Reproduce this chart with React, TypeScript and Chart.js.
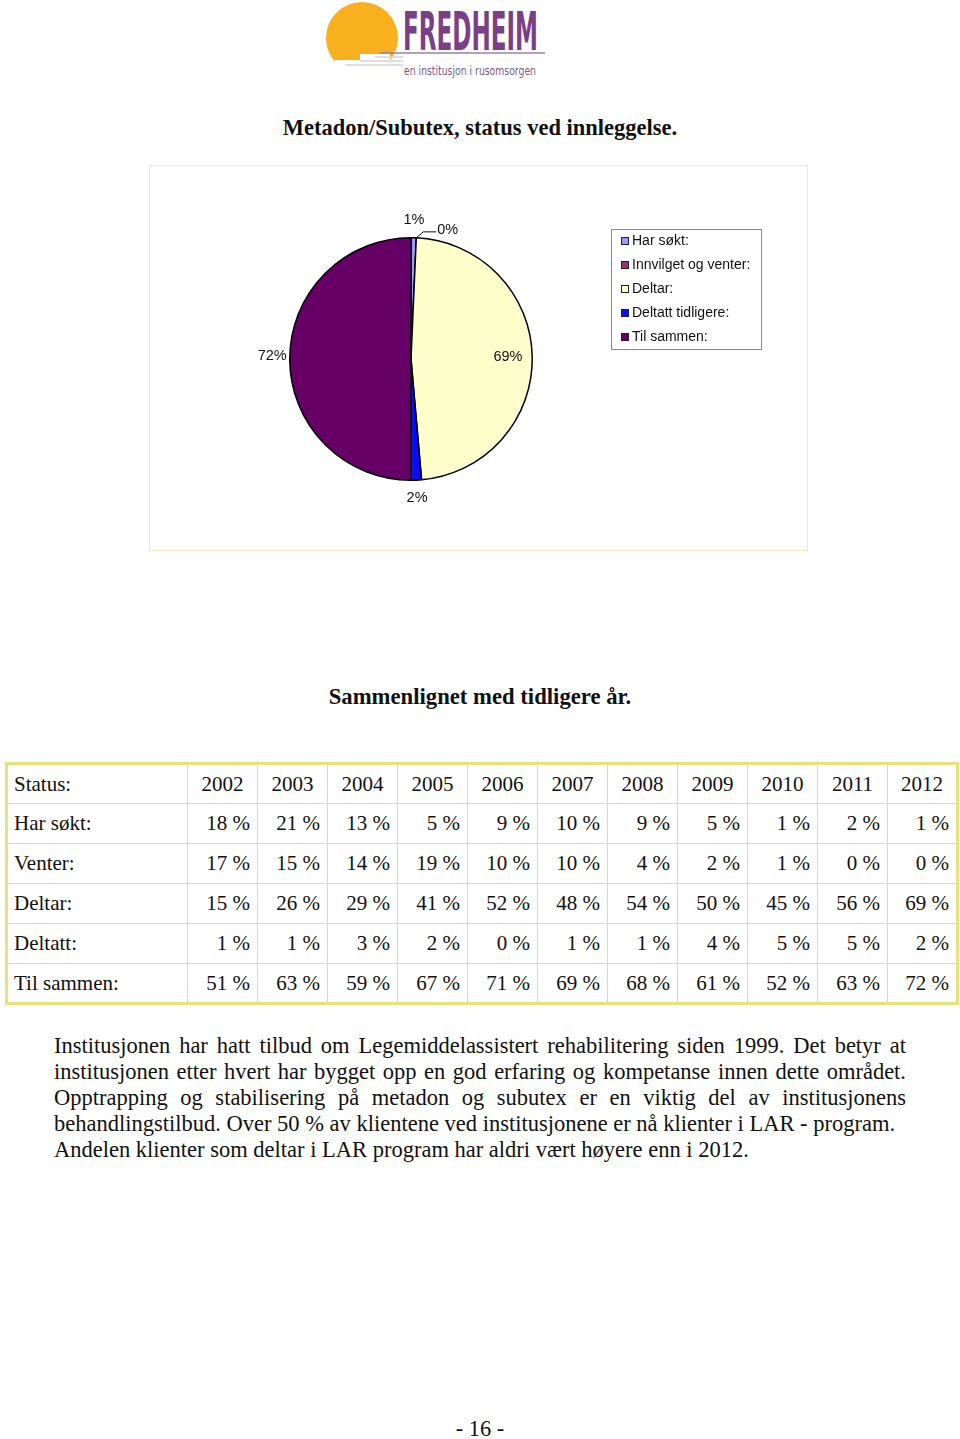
import React, { useEffect, useRef } from "react";
import { Chart, registerables } from "chart.js";

Chart.register(...registerables);

// ---- Pie data (2012) ----
const pieLabels = ["Har søkt:", "Innvilget og venter:", "Deltar:", "Deltatt tidligere:", "Til sammen:"];
const pieValues = [1, 0, 69, 2, 72];
const pieColors = ["#9999ff", "#993366", "#ffffcc", "#0c0cf5", "#660066"];

// ---- Table data ----
const years = ["2002", "2003", "2004", "2005", "2006", "2007", "2008", "2009", "2010", "2011", "2012"];
const harSokt = [18, 21, 13, 5, 9, 10, 9, 5, 1, 2, 1];
const venter = [17, 15, 14, 19, 10, 10, 4, 2, 1, 0, 0];
const deltar = [15, 26, 29, 41, 52, 48, 54, 50, 45, 56, 69];
const deltatt = [1, 1, 3, 2, 0, 1, 1, 4, 5, 5, 2];
const tilSammen = [51, 63, 59, 67, 71, 69, 68, 61, 52, 63, 72];

const tableRows: [string, number[]][] = [
  ["Har søkt:", harSokt],
  ["Venter:", venter],
  ["Deltar:", deltar],
  ["Deltatt:", deltatt],
  ["Til sammen:", tilSammen],
];

const paragraphLines = [
  "Institusjonen har hatt tilbud om Legemiddelassistert rehabilitering siden 1999. Det betyr at",
  "institusjonen etter hvert har bygget opp en god erfaring og kompetanse innen dette området.",
  "Opptrapping og stabilisering på metadon og subutex er en viktig del av institusjonens",
  "behandlingstilbud. Over 50 % av klientene ved institusjonene er nå klienter i LAR - program.",
  "Andelen klienter som deltar i LAR program har aldri vært høyere enn i 2012.",
];

const pieLabelPlugin = {
  id: "pieLabels",
  afterDatasetsDraw(chart: any, _args: any, opts: any) {
    const ctx = chart.ctx;
    const meta = chart.getDatasetMeta(0);
    const ds = chart.data.datasets[0];
    ctx.save();
    ctx.font = opts.font;
    ctx.fillStyle = "#111";
    ctx.strokeStyle = "#111";
    ctx.lineWidth = 1;
    ctx.textBaseline = "middle";
    meta.data.forEach((arc: any, i: number) => {
      const { x, y, startAngle, endAngle, outerRadius } = arc.getProps(
        ["x", "y", "startAngle", "endAngle", "outerRadius"],
        true
      );
      const mid = (startAngle + endAngle) / 2;
      const c = Math.cos(mid);
      const s = Math.sin(mid);
      const text = ds.data[i] + "%";
      const mode = opts.placement[i];
      if (mode === "inside") {
        const r = outerRadius * 0.8;
        ctx.textAlign = "center";
        ctx.fillText(text, x + c * r, y + s * r);
      } else if (mode === "leader") {
        const px = x + c * outerRadius;
        const py = y + s * outerRadius;
        const ex = px + 7;
        const ey = py - 6;
        ctx.beginPath();
        ctx.moveTo(px, py);
        ctx.lineTo(ex, ey);
        ctx.lineTo(ex + 13, ey);
        ctx.stroke();
        ctx.textAlign = "left";
        ctx.fillText(text, ex + 14, ey - 2);
      } else {
        if (c < -0.5) {
          ctx.textAlign = "right";
          ctx.fillText(text, x + c * (outerRadius + 3), y + s * (outerRadius + 3) - 3);
        } else if (c > 0.5) {
          ctx.textAlign = "left";
          ctx.fillText(text, x + c * (outerRadius + 3), y + s * (outerRadius + 3) - 3);
        } else {
          ctx.textAlign = "center";
          ctx.fillText(text, x + c * (outerRadius + 18), y + s * (outerRadius + 18));
        }
      }
    });
    ctx.restore();
  },
};

const boxLegendPlugin = {
  id: "boxLegend",
  afterDraw(chart: any, _args: any, opts: any) {
    const ctx = chart.ctx;
    const { x, y, w, h, rowH, firstY, markerX, textX, markerSize } = opts;
    const colors = chart.data.datasets[0].backgroundColor;
    ctx.save();
    ctx.strokeStyle = "#8a8a8a";
    ctx.lineWidth = 1;
    ctx.strokeRect(x + 0.5, y + 0.5, w, h);
    ctx.font = opts.font;
    ctx.textBaseline = "middle";
    ctx.textAlign = "left";
    chart.data.labels.forEach((lab: string, i: number) => {
      const cy = firstY + i * rowH;
      ctx.fillStyle = colors[i];
      ctx.fillRect(markerX, cy - markerSize / 2, markerSize, markerSize);
      ctx.strokeStyle = "#222";
      ctx.strokeRect(markerX + 0.5, cy - markerSize / 2 + 0.5, markerSize - 1, markerSize - 1);
      ctx.fillStyle = "#111";
      ctx.fillText(lab, textX, cy);
    });
    ctx.restore();
  },
};

function PieChart() {
  const ref = useRef<HTMLCanvasElement | null>(null);
  useEffect(() => {
    if (!ref.current) return;
    const chart = new Chart(ref.current, {
      type: "pie",
      data: {
        labels: pieLabels,
        datasets: [
          {
            data: pieValues,
            backgroundColor: pieColors,
            borderColor: "#000",
            borderWidth: 1.5,
            hoverOffset: 0,
          },
        ],
      },
      options: {
        responsive: false,
        animation: false,
        layout: { padding: { left: 139, right: 274, top: 71, bottom: 69 } },
        plugins: {
          legend: { display: false },
          tooltip: { enabled: false },
          pieLabels: {
            font: "14.5px 'Liberation Sans', Arial, sans-serif",
            placement: ["outside", "leader", "inside", "outside", "outside"],
          },
          boxLegend: {
            x: 461,
            y: 63,
            w: 150,
            h: 120,
            firstY: 75,
            rowH: 24,
            markerX: 471,
            textX: 482,
            markerSize: 8,
            font: "14px 'Liberation Sans', Arial, sans-serif",
          },
        } as any,
      },
      plugins: [pieLabelPlugin, boxLegendPlugin],
    });
    return () => chart.destroy();
  }, []);
  return <canvas ref={ref} width={657} height={384} style={{ display: "block" }} />;
}

function Logo() {
  const fam = "'DejaVu Sans Condensed', 'Liberation Sans Narrow', 'DejaVu Sans', sans-serif";
  return (
    <svg
      width={250}
      height={82}
      style={{ position: "absolute", left: 315, top: 0 }}
      viewBox="0 0 250 82"
    >
      <circle cx={47} cy={38} r={36} fill="#f8b01e" />
      <rect x={45} y={54} width={30} height={22} fill="#ffffff" />
      <rect x={20} y={60} width={30} height={16} fill="#ffffff" />
      <line x1={65} y1={53} x2={230} y2={53} stroke="#9b7fa6" strokeWidth={1.5} />
      <line x1={60} y1={57} x2={88} y2={57} stroke="#d8d0dc" strokeWidth={1.5} />
      <line x1={45} y1={61} x2={88} y2={61} stroke="#d8d0dc" strokeWidth={1.5} />
      <line x1={30} y1={65} x2={88} y2={65} stroke="#d8d0dc" strokeWidth={1.5} />
      <text
        transform="translate(88,50) scale(1,1.91)"
        x={0}
        y={0}
        fontFamily={fam}
        fontWeight="bold"
        fontSize={28}
        fill="#7b3f88"
        textLength={135}
        lengthAdjust="spacingAndGlyphs"
      >
        FREDHEIM
      </text>
      <text
        transform="translate(89,75) scale(1,1.25)"
        x={0}
        y={0}
        fontFamily={fam}
        fontSize={10}
        fill="#7a5a88"
        textLength={132}
        lengthAdjust="spacingAndGlyphs"
      >
        en institusjon i rusomsorgen
      </text>
    </svg>
  );
}

const serif = "'Liberation Serif', 'Times New Roman', Times, serif";
const tableBorder = "#e8e27a";

export default function App() {
  return (
    <div style={{ fontFamily: serif, color: "#111" }}>
      <Logo />
      <div
        style={{
          position: "absolute",
          left: 0,
          width: 960,
          top: 115,
          lineHeight: "26px",
          textAlign: "center",
          fontWeight: "bold",
          fontSize: 22.5,
        }}
      >
        Metadon/Subutex, status ved innleggelse.
      </div>
      <div
        style={{
          position: "absolute",
          left: 149,
          top: 165,
          width: 657,
          height: 384,
          border: "1px solid #eeecc2",
        }}
      >
        <PieChart />
      </div>
      <div
        style={{
          position: "absolute",
          left: 0,
          width: 960,
          top: 684,
          lineHeight: "26px",
          textAlign: "center",
          fontWeight: "bold",
          fontSize: 22.7,
        }}
      >
        Sammenlignet med tidligere år.
      </div>
      <table
        style={{
          position: "absolute",
          left: 5,
          top: 762,
          width: 949,
          borderCollapse: "collapse",
          border: `3px solid ${tableBorder}`,
          fontSize: 21,
          fontFamily: serif,
          tableLayout: "fixed",
        }}
      >
        <colgroup>
          <col style={{ width: 181 }} />
          {years.map((y) => (
            <col key={y} style={{ width: 70 }} />
          ))}
        </colgroup>
        <tbody>
          <tr style={{ height: 40 }}>
            <td style={{ border: `1.5px solid ${tableBorder}`, padding: "0 0 0 6px" }}>Status:</td>
            {years.map((y) => (
              <td key={y} style={{ border: `1.5px solid ${tableBorder}`, textAlign: "center", padding: 0 }}>
                {y}
              </td>
            ))}
          </tr>
          {tableRows.map(([name, vals]) => (
            <tr key={name} style={{ height: 40 }}>
              <td style={{ border: `1.5px solid ${tableBorder}`, padding: "0 0 0 6px" }}>{name}</td>
              {vals.map((v, i) => (
                <td
                  key={i}
                  style={{
                    border: `1.5px solid ${tableBorder}`,
                    textAlign: "right",
                    padding: "0 7px 0 0",
                  }}
                >
                  {v} %
                </td>
              ))}
            </tr>
          ))}
        </tbody>
      </table>
      <div style={{ position: "absolute", left: 54, top: 1033, width: 852, fontSize: 22.5, lineHeight: "26px" }}>
        {paragraphLines.map((l, i) => (
          <div
            key={i}
            style={{
              textAlign: i < 3 ? "justify" : "left",
              textAlignLast: i < 3 ? "justify" : "left",
              whiteSpace: "nowrap",
            }}
          >
            {l}
          </div>
        ))}
      </div>
      <div
        style={{
          position: "absolute",
          left: 0,
          width: 960,
          top: 1420,
          lineHeight: "18px",
          textAlign: "center",
          fontSize: 22.4,
        }}
      >
        - 16 -
      </div>
    </div>
  );
}
